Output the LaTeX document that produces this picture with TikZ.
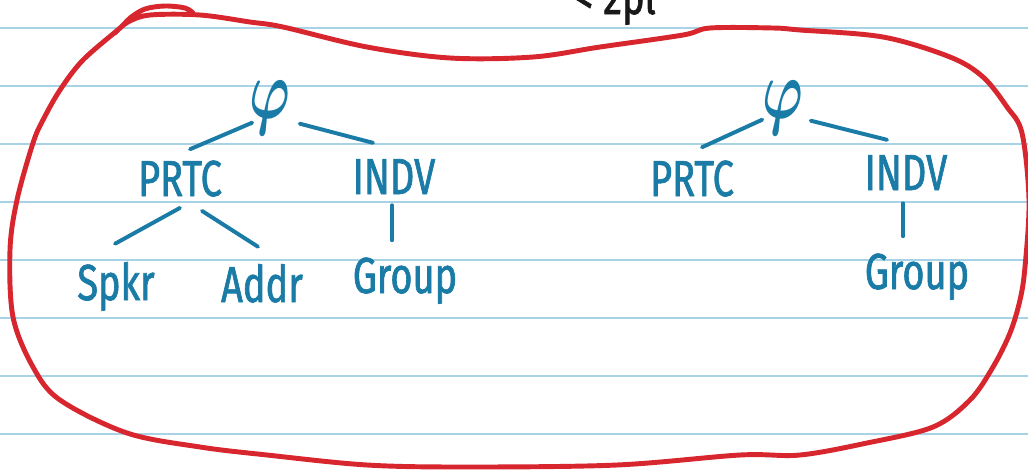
\RequirePackage{fix-cm}
\documentclass[tikz,border=0pt]{standalone}
\usepackage{fontspec}
\newfontfamily\handfont[FakeStretch=0.75, FakeBold=1.3]{Fira Sans}

\definecolor{ink}{HTML}{1A7BA6}
\definecolor{pen}{HTML}{D8262E}
\definecolor{rule}{HTML}{A8D3E7}

\newcommand{\hphi}{\scalebox{0.65}[1]{\fontsize{60}{60}\selectfont\boldmath$\varphi$}}

\begin{document}
\begin{tikzpicture}[x=0.025cm, y=-0.025cm,
  hand/.style={text=ink, font=\handfont\fontsize{36}{36}\selectfont, inner sep=0pt, anchor=base},
  branch/.style={draw=ink, line width=2.8pt, line cap=round},
  paperline/.style={draw=rule, line width=1.1pt},
  ring/.style={draw=pen, line width=3.5pt, line cap=round, line join=round}]

\useasboundingbox (0,0) rectangle (1028,469);
\clip (0,0) rectangle (1028,469);
\fill[white] (0,0) rectangle (1028,469);

% Paper
\foreach \y in {28,86,...,434}
  \draw[paperline] (0,\y) -- (1028,\y);

\node (topnote) [hand, text=black!90] at (615,14) {< 2pl};

% Left tree
\node (phi1) [hand, text=ink] at (270,118) {\hphi};
\node (prtc1) [hand] at (180,196) {PRTC};
\node (indv1) [hand] at (394,194) {INDV};
\node (spkr1) [hand] at (116,300) {Spkr};
\node (addr1) [hand] at (262,302) {Addr};
\node (grp1) [hand] at (405,293) {Group};

\draw[branch] ([shift={(3,-12)}]phi1.south west) -- ([shift={(10,-11)}]prtc1.north);
\draw[branch] ([shift={(9,-11)}]phi1.south east) -- ([shift={(-21,-16)}]indv1.north);
\draw[branch] ([shift={(0,11)}]prtc1.south) -- ([shift={(-1,-18)}]spkr1.north);
\draw[branch] ([shift={(22,14)}]prtc1.south) -- ([shift={(-4,-17)}]addr1.north);
\draw[branch] ([shift={(-2,11)}]indv1.south) -- ([shift={(-13,-17)}]grp1.north);

% Right tree
\node (phi2) [hand, text=ink] at (783,118) {\hphi};
\node (prtc2) [hand] at (692,196) {PRTC};
\node (indv2) [hand] at (906,190) {INDV};
\node (grp2) [hand] at (917,289) {Group};

\draw[branch] ([shift={(0,-15)}]phi2.south west) -- ([shift={(10,-13)}]prtc2.north);
\draw[branch] ([shift={(7,-14)}]phi2.south east) -- ([shift={(-19,-15)}]indv2.north);
\draw[branch] ([shift={(-3,13)}]indv2.south) -- ([shift={(-14,-17)}]grp2.north);

% Ring round both trees
\draw[ring] plot[smooth, tension=0.55] coordinates {
  (193,13) (185,8) (165,6) (145,9) (130,18) (120,28) (83,60) (60,90) (43,120)
  (33,143) (17,200) (10,250) (13,317) (33,367) (60,400) (127,433) (200,447)
  (267,455) (367,465) (467,467) (617,465) (740,455) (800,455) (867,443)
  (933,427) (970,400) (993,367) (1010,333) (1020,300) (1025,267) (1029,200)
  (1022,133) (1007,107) (983,77) (950,57) (883,37) (800,30) (773,28) (710,28)
  (683,35) (600,47) (533,57) (450,58) (367,47) (283,27) (250,22) (200,15)
  (150,15) (128,22) (115,33)};

\end{tikzpicture}
\end{document}
